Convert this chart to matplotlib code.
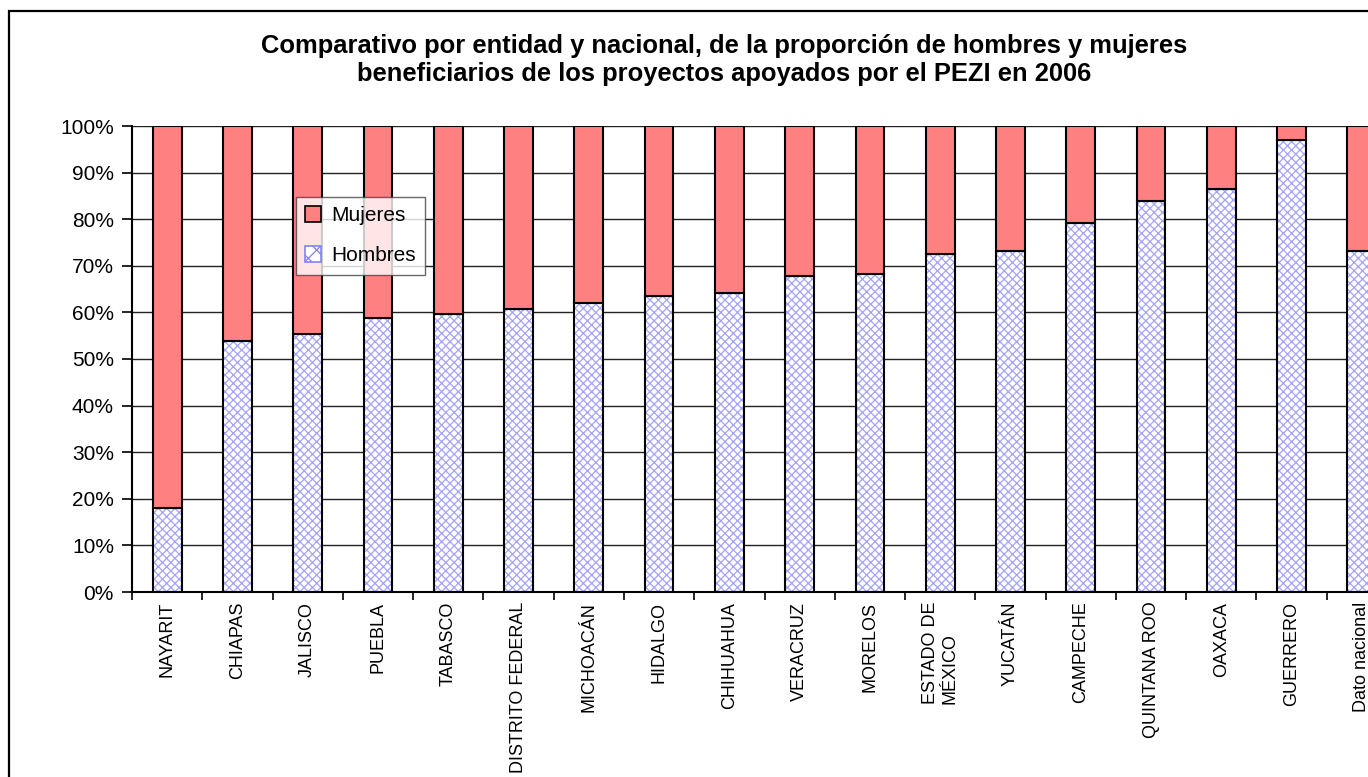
import numpy as np
import matplotlib.pyplot as plt
from matplotlib.patches import Rectangle, Patch

plt.rcParams['font.family'] = ['Liberation Sans', 'DejaVu Sans']

# datos
entidades = ["NAYARIT", "CHIAPAS", "JALISCO", "PUEBLA", "TABASCO", "DISTRITO FEDERAL",
             "MICHOACÁN", "HIDALGO", "CHIHUAHUA", "VERACRUZ", "MORELOS", "ESTADO DE\nMÉXICO",
             "YUCATÁN", "CAMPECHE", "QUINTANA ROO", "OAXACA", "GUERRERO", "Dato nacional"]
hombres = [18.1, 53.9, 55.3, 58.8, 59.6, 60.7, 62.0, 63.5, 64.2, 67.8, 68.2, 72.5,
           73.1, 79.2, 83.9, 86.4, 97.1, 73.2]
mujeres = [100 - h for h in hombres]
yticks = list(range(0, 101, 10))

W, H = 1368, 777
fig = plt.figure(figsize=(W / 100, H / 100), dpi=100)
fig.patches.append(Rectangle((9 / W, -0.1), 1.2, 1.1 - 11 / H, transform=fig.transFigure,
                             fill=False, edgecolor='black', lw=1.6))

ax = fig.add_axes([132 / W, 1 - 592 / H, 1265 / W, 466 / H])
x = np.arange(len(entidades)) + 0.5
bw = 0.41

plt.rcParams['hatch.linewidth'] = 0.9
ax.bar(x, hombres, bw, color='white', edgecolor='#a3a3ff', hatch='xxxx', lw=0, zorder=2)
ax.bar(x, hombres, bw, fill=False, edgecolor='black', lw=1.5, zorder=3)
ax.bar(x, mujeres, bw, bottom=hombres, color='#ff8080', edgecolor='black', lw=1.5, zorder=3)

leg_h = [Patch(facecolor='#ff8080', edgecolor='black', lw=1.2, label='Mujeres'),
         Patch(facecolor='white', edgecolor='#8080ff', hatch='xx', lw=1.2, label='Hombres')]
leg = ax.legend(handles=leg_h, loc='upper left', bbox_to_anchor=(0.1296, 0.8476),
                borderaxespad=0, frameon=True, fancybox=False, fontsize=15,
                handlelength=0.75, handleheight=0.75, handletextpad=0.5,
                borderpad=0.45, labelspacing=1.0, edgecolor='#444444')
leg.get_frame().set_linewidth(1.0)

ax.set_xlim(0, len(entidades))
ax.set_ylim(0, 100)
ax.set_yticks(yticks)
ax.set_yticklabels([f"{v}%" for v in yticks], fontsize=15)
ax.grid(axis='y', color='#222222', lw=1.0, zorder=1)
ax.set_axisbelow(True)

ax.set_xticks(np.arange(len(entidades) + 1))
ax.set_xticklabels([])
ax.set_xticks(x, minor=True)
ax.set_xticklabels(entidades, minor=True, rotation=90, fontsize=13, va='top',
                   ha='center', multialignment='left')
ax.tick_params(axis='x', which='minor', length=0, pad=7)
ax.tick_params(axis='x', which='major', length=6, width=1.2, direction='out')
ax.tick_params(axis='y', length=7, width=1.2, direction='out', pad=6)

for s in ['top', 'right']:
    ax.spines[s].set_visible(False)
for s in ['left', 'bottom']:
    ax.spines[s].set_linewidth(1.5)

fig.text(724 / W, 1 - 60 / H,
         "Comparativo por entidad y nacional, de la proporción de hombres y mujeres\n"
         "beneficiarios de los proyectos apoyados por el PEZI en 2006",
         ha='center', va='center', fontsize=18.4, fontweight='bold', linespacing=1.2)

fig.savefig("out.png", dpi=100)
plt.close()
